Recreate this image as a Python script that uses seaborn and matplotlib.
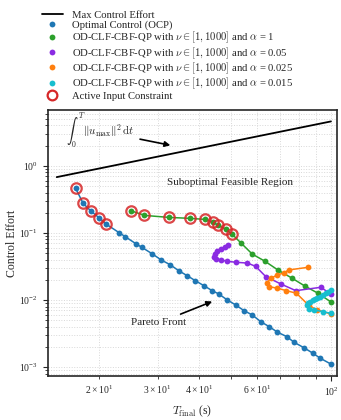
import matplotlib
matplotlib.use("Agg")
import matplotlib.pyplot as plt
from matplotlib.lines import Line2D
import seaborn as sns
import pandas as pd

# max control effort line
t_max = [14.9, 100]
effort_max = [0.68, 4.6]

# optimal control (OCP)
t_ocp = [17.0, 17.9, 18.9, 20.0, 21.0, 23.0, 24.0, 25.9, 26.9, 28.9, 30.8, 32.8,
         34.75, 36.85, 39.0, 41.4, 43.85, 45.9, 48.7, 51.6, 54.7, 57.9, 61.4,
         65.1, 69.0, 73.6, 77.4, 82.7, 88.1, 92.8, 100.0]
effort_ocp = [0.461, 0.276, 0.212, 0.168, 0.1357, 0.1007, 0.0878, 0.0684, 0.0611,
              0.049, 0.0395, 0.0335, 0.0274, 0.0231, 0.01945, 0.01637, 0.0138,
              0.01232, 0.01003, 0.00846, 0.00695, 0.006, 0.00477, 0.00402,
              0.00332, 0.00285, 0.00235, 0.00196, 0.00162, 0.00136, 0.00111]

# alpha = 1
t_a1 = [25.0, 27.4, 32.5, 37.7, 41.6, 44.05, 45.8, 48.3, 50.4, 53.7, 57.9, 63.3,
        69.4, 76.2, 83.4, 91.5, 100.0]
effort_a1 = [0.214, 0.1827, 0.1706, 0.165, 0.1594, 0.1452, 0.1297, 0.113, 0.0953,
             0.07, 0.0485, 0.0378, 0.0278, 0.0213, 0.0162, 0.0126, 0.00937]

# alpha = 0.05
t_a05 = [49.0, 47.9, 46.5, 45.2, 44.6, 44.4, 44.9, 46.5, 48.7, 51.9, 56.0, 59.3,
         63.6, 70.6, 78.4, 93.3, 100.0]
effort_a05 = [0.0654, 0.0617, 0.0576, 0.0532, 0.0485, 0.0434, 0.0413, 0.0399,
              0.0378, 0.0365, 0.0356, 0.0318, 0.0224, 0.01737, 0.0138, 0.0155, 0.0122]

# alpha = 0.025
t_a025 = [85.5, 74.6, 72.3, 69.0, 65.8, 64.3, 65.1, 69.0, 73.4, 78.7, 86.0, 91.1, 100.0]
effort_a025 = [0.0308, 0.0281, 0.0256, 0.0236, 0.0211, 0.0182, 0.01583, 0.0150,
               0.0138, 0.01263, 0.0082, 0.0071, 0.0062]

# alpha = 0.015
t_a015 = [100.0, 98.2, 96.6, 94.4, 92.5, 91.1, 89.5, 88.0, 86.5, 85.0, 84.6,
          86.0, 89.0, 94.4, 100.0]
effort_a015 = [0.0141, 0.0133, 0.01263, 0.0118, 0.01124, 0.01070, 0.01028,
               0.00985, 0.00947, 0.0090, 0.00846, 0.0073, 0.00712, 0.00672, 0.00635]

# points where the input constraint is active
t_active = t_ocp[:5] + t_a1[:9]
effort_active = effort_ocp[:5] + effort_a1[:9]

c_ocp = "#1f77b4"
c_a1 = "#2ca02c"
c_a05 = "#8a2be2"
c_a025 = "#ff7f0e"
c_a015 = "#17becf"
c_red = "#d62728"

sns.set_style("ticks")
plt.rcParams["font.family"] = ["Liberation Serif", "DejaVu Serif"]
plt.rcParams["mathtext.fontset"] = "cm"
plt.rcParams["mathtext.rm"] = "serif"

fig = plt.figure(figsize=(3.41, 4.2), dpi=100)
ax = fig.add_axes([0.14, 0.105, 0.847, 0.633])
ax.set_xscale("log")
ax.set_yscale("log")

ax.plot(t_max, effort_max, color="black", lw=1.3)

series = [
    (t_ocp, effort_ocp, c_ocp),
    (t_a1, effort_a1, c_a1),
    (t_a05, effort_a05, c_a05),
    (t_a025, effort_a025, c_a025),
    (t_a015, effort_a015, c_a015),
]
for t, e, c in series:
    df = pd.DataFrame({"T": t, "effort": e})
    sns.lineplot(data=df, x="T", y="effort", sort=False, estimator=None, ax=ax,
                 color=c, lw=1.1, marker="o", markersize=4.2,
                 markeredgewidth=0, legend=False)

ax.plot(t_active, effort_active, ls="none", marker="o", markersize=7.5,
        markerfacecolor="none", markeredgecolor=c_red, markeredgewidth=1.6,
        alpha=0.85)

ax.set_xlim(14, 104)
ax.set_ylim(7.4e-4, 6.8)
ax.grid(True, which="both", ls=":", color="#d8d8d8", lw=0.7)
ax.tick_params(which="both", direction="out", labelsize=7)
for s in ax.spines.values():
    s.set_linewidth(1.2)

ax.set_xlabel(r"$T_{\rm final}$ (s)", fontsize=8.5)
ax.set_ylabel("Control Effort", fontsize=8.5, labelpad=1)

ax.annotate(r"$\int_0^T \|u_{\max}\|^2\,\mathrm{d}t$", xy=(32.8, 2.03),
            xytext=(20.1, 3.3), ha="center", va="center", fontsize=8,
            arrowprops=dict(arrowstyle="-|>", color="black", lw=1.2,
                            shrinkA=2, shrinkB=0))
ax.annotate("Pareto Front", xy=(43.85, 0.0095), xytext=(30.2, 0.00456),
            ha="center", va="center", fontsize=8,
            arrowprops=dict(arrowstyle="-|>", color="black", lw=1.2,
                            shrinkA=2, shrinkB=0))
ax.text(49.5, 0.558, "Suboptimal Feasible Region", ha="center", va="center",
        fontsize=8)

handles = [
    Line2D([], [], color="black", lw=1.3),
    Line2D([], [], ls="none", marker="o", markersize=4.2, mew=0, color=c_ocp),
    Line2D([], [], ls="none", marker="o", markersize=4.2, mew=0, color=c_a1),
    Line2D([], [], ls="none", marker="o", markersize=4.2, mew=0, color=c_a05),
    Line2D([], [], ls="none", marker="o", markersize=4.2, mew=0, color=c_a025),
    Line2D([], [], ls="none", marker="o", markersize=4.2, mew=0, color=c_a015),
    Line2D([], [], ls="none", marker="o", markersize=7, mfc="none",
           mec=c_red, mew=1.6),
]
labels = [
    "Max Control Effort",
    "Optimal Control (OCP)",
    r"OD-CLF-CBF-QP with $\nu \in [1, 1000]$ and $\alpha$ = 1",
    r"OD-CLF-CBF-QP with $\nu \in [1, 1000]$ and $\alpha$ = 0.05",
    r"OD-CLF-CBF-QP with $\nu \in [1, 1000]$ and $\alpha$ = 0.025",
    r"OD-CLF-CBF-QP with $\nu \in [1, 1000]$ and $\alpha$ = 0.015",
    "Active Input Constraint",
]
fig.legend(handles, labels, loc="upper left", bbox_to_anchor=(0.1, 0.993),
           frameon=False, fontsize=7.7, labelspacing=0.0, handlelength=2.0,
           handletextpad=0.8, borderaxespad=0.3)

fig.savefig("out.png", dpi=100)
